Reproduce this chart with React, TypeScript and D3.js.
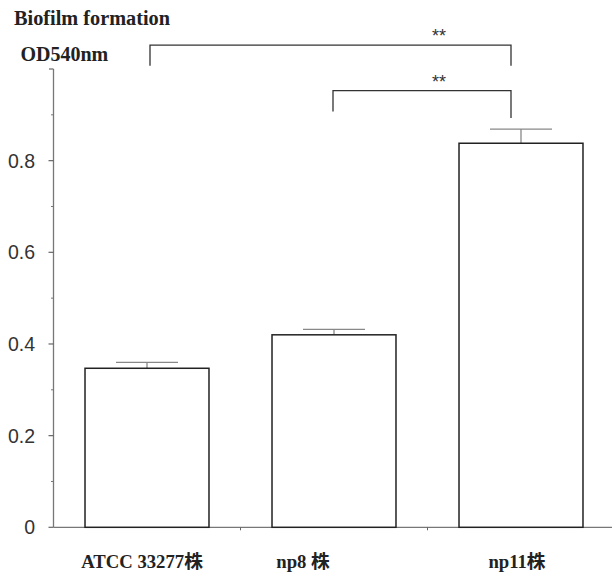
import React from 'react';
import * as d3 from 'd3';

const categories = ['ATCC 33277株', 'np8 株', 'np11株'];
const means = [0.347, 0.42, 0.838];
const errors = [0.013, 0.012, 0.031];
const yTicks = [0, 0.2, 0.4, 0.6, 0.8];
const yTickLabels = ['0', '0.2', '0.4', '0.6', '0.8'];
// significance brackets: from/to category index, bar height and leg ends (in data units)
const brackets = [
  { from: 0, to: 2, top: 1.052, legFrom: 1.007, legTo: 1.007, label: '**' },
  { from: 1, to: 2, top: 0.953, legFrom: 0.907, legTo: 0.893, label: '**' },
];

const W = 612;
const H = 576;
const serif = '"Liberation Serif", "Times New Roman", "Noto Sans CJK JP", serif';
const sans = '"Liberation Sans", Arial, sans-serif';

export default function App() {
  const x = d3.scaleBand<string>()
    .domain(categories)
    .range([53.5, 614.5])
    .paddingInner(0.337)
    .paddingOuter(0.1685);

  const y = d3.scaleLinear().domain([0, 1]).range([527.3, 69]);

  const bw = x.bandwidth();
  const step = x.step();
  const minor = d3.range(0.1, 1.01, 0.2);
  const center = (i: number) => (x(categories[i]) as number) + bw / 2;

  return (
    <svg width={W} height={H} style={{ position: 'absolute', left: 0, top: 0, background: '#fff' }}>
      <text x={14} y={25} fontFamily={serif} fontWeight="bold" fontSize={20.3} fill="#222">Biofilm formation</text>
      <text x={20.5} y={61} fontFamily={serif} fontWeight="bold" fontSize={20} fill="#222">OD540nm</text>

      {/* y axis */}
      <line x1={53.5} x2={53.5} y1={y(1)} y2={y(0)} stroke="#777" strokeWidth={1.3} />
      {yTicks.map((t, i) => (
        <g key={t}>
          <line x1={48.5} x2={53.5} y1={y(t)} y2={y(t)} stroke="#666" strokeWidth={1.2} />
          <text x={35} y={y(t)} dy="0.36em" textAnchor="end" fontFamily={sans} fontSize={19.5} fill="#333">
            {yTickLabels[i]}
          </text>
        </g>
      ))}
      <line x1={49} x2={53.5} y1={y(1)} y2={y(1)} stroke="#666" strokeWidth={1.2} />
      {minor.map(t => (
        <line key={t} x1={51} x2={53.5} y1={y(t)} y2={y(t)} stroke="#777" strokeWidth={1} />
      ))}

      {/* x axis */}
      <line x1={53.5} x2={612} y1={y(0)} y2={y(0)} stroke="#777" strokeWidth={1.3} />
      {categories.slice(1).map(c => (
        <line key={c} x1={(x(c) as number) - (step - bw) / 2} x2={(x(c) as number) - (step - bw) / 2}
          y1={y(0)} y2={y(0) + 3} stroke="#666" strokeWidth={1} />
      ))}

      {/* error bars */}
      {categories.map((c, i) => (
        <g key={'e' + c} stroke="#888" strokeWidth={1.3}>
          <line x1={center(i)} x2={center(i)} y1={y(means[i])} y2={y(means[i] + errors[i])} />
          <line x1={center(i) - bw / 4} x2={center(i) + bw / 4} y1={y(means[i] + errors[i])} y2={y(means[i] + errors[i])} />
        </g>
      ))}

      {/* bars */}
      {categories.map((c, i) => (
        <rect key={c} x={x(c)} y={y(means[i])} width={bw} height={y(0) - y(means[i])}
          fill="#fff" stroke="#222" strokeWidth={1.5} />
      ))}

      {/* category labels */}
      {categories.map((c, i) => (
        <text key={'l' + c} x={center(i) + [-5, -31, -4][i]} y={568} textAnchor="middle"
          fontFamily={serif} fontWeight="bold" fontSize={18.7} fill="#222">
          {c}
        </text>
      ))}

      {/* significance brackets */}
      {brackets.map((b, i) => {
        const x1 = center(b.from) + 3 - (b.from === 1 ? 4 : 0);
        const x2 = center(b.to) - 10;
        return (
          <g key={i}>
            <path d={`M${x1},${y(b.legFrom)}V${y(b.top)}H${x2}V${y(b.legTo)}`} fill="none" stroke="#333" strokeWidth={1.3} />
            <text x={x2 - 72} y={y(b.top) - 3} textAnchor="middle" fontFamily={sans} fontSize={18} fill="#333">
              {b.label}
            </text>
          </g>
        );
      })}
    </svg>
  );
}
